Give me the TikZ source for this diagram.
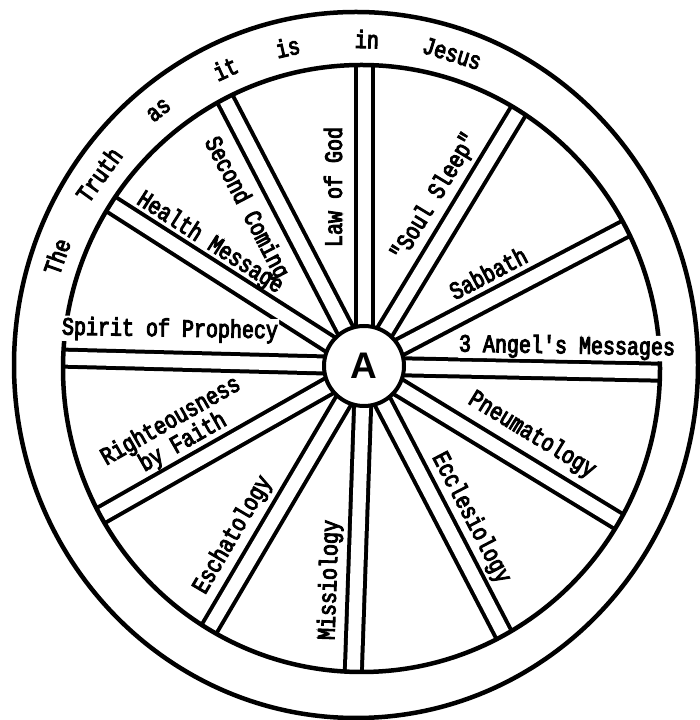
\documentclass[tikz,border=0pt]{standalone}
\usepackage{fontspec}
\newfontfamily\tw[FakeStretch=0.8,FakeBold=4]{Liberation Mono}
\newfontfamily\hubfont{Liberation Sans}
\begin{document}
\begin{tikzpicture}[x=1pt,y=1pt,
  rim/.style={line width=4.5pt},
  spoke/.style={line width=4pt, double=white, double distance=13pt},
  lab/.style={font=\tw\fontsize{25}{23}\selectfont, inner sep=1pt, align=center},
  labw/.style={lab, fill=white},
  rimword/.style={font=\tw\fontsize{25}{23}\selectfont, inner sep=0pt}]
\useasboundingbox (0,0) rectangle (699,720);
% outer rim
\draw[rim] (356,355) ellipse [x radius=342, y radius=353];
% spokes
\coordinate (c) at (364,354);
\begin{scope}
  \clip (361.5,351.5) ellipse [x radius=298.5, y radius=303.5];
  \foreach \a in {90,58.8,27.7,-1.2,-31.4,-62.5,-92,-120.5,-150.4,-181.5,-212.6,-242.5}
    \draw[spoke] (c) -- ++(\a:420);
\end{scope}
% inner rim
\draw[rim] (361.5,351.5) ellipse [x radius=298.5, y radius=303.5];
% hub
\node[circle, draw, line width=4pt, fill=white, minimum size=80pt, inner sep=0pt,
      font=\hubfont\bfseries\fontsize{37}{37}\selectfont] (hub) at (c) {A};
% rim words
\path (358,353) ++(160.3:320 and 328) node[rimword, rotate=70.3] (w1) {The};
\path (358,353) ++(144.1:320 and 328) node[rimword, rotate=54.1] (w2) {Truth};
\path (358,353) ++(128.5:320 and 328) node[rimword, rotate=38.5] (w3) {as};
\path (358,353) ++(114.5:320 and 328) node[rimword, rotate=24.5] (w4) {it};
\path (358,353) ++(102.7:320 and 328) node[rimword, rotate=12.7] (w5) {is};
\path (358,353) ++(88.4:320 and 328) node[rimword, rotate=-1.6] (w6) {in};
\path (358,353) ++(72.9:320 and 328) node[rimword, rotate=-17.1] (w7) {Jesus};
% spoke labels
\node[lab, rotate=90] (l1) at (333,533) {Law of God};
\node[lab, rotate=-62.5] (l2) at (246,512) {Second Coming};
\node[lab, rotate=-32.6] (l3) at (210,477) {Health Message};
\node[labw, rotate=-1] (l4) at (170,390) {Spirit of Prophecy};
\node[lab, rotate=58.8] (l5) at (435,523) {"Soul Sleep"};
\node[lab, rotate=27.7] (l6) at (488,447) {Sabbath};
\node[labw, rotate=-1] (l7) at (567,373) {3 Angel's Messages};
\node[lab, rotate=-31.4] (l8) at (532,285) {Pneumatology};
\node[lab, rotate=-62.5] (l9) at (471,202) {Ecclesiology};
\node[lab, rotate=88] (l10) at (330,140) {Missiology};
\node[lab, rotate=59.5] (l11) at (233,185) {Eschatology};
\node[lab, rotate=29.6] (l12) at (177,288) {Righteousness\\by Faith};
\end{tikzpicture}
\end{document}
